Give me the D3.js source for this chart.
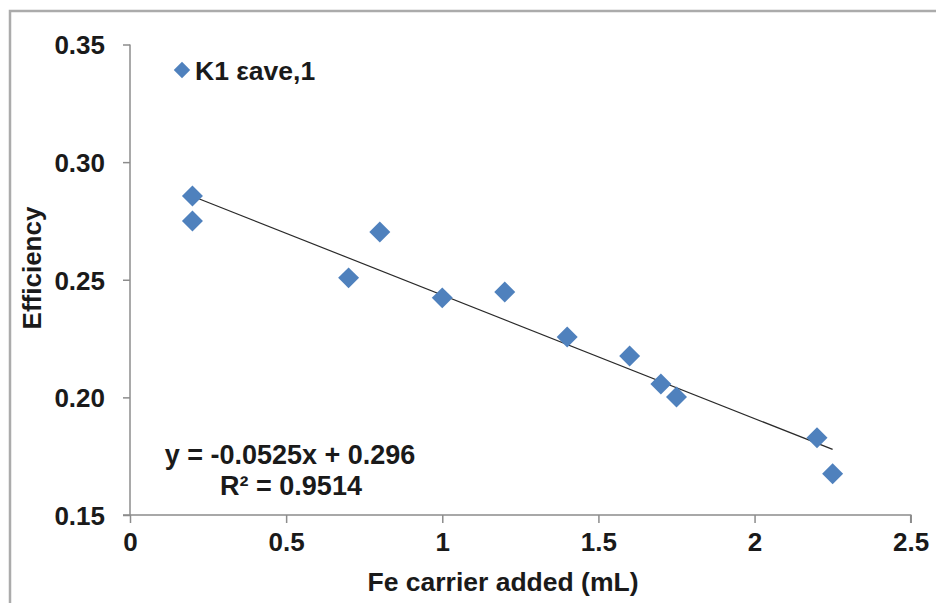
<!DOCTYPE html>
<html>
<head>
<meta charset="utf-8">
<script src="https://cdn.jsdelivr.net/npm/d3@7"></script>
<style>
  html, body { margin: 0; padding: 0; background: #fff; }
  svg { display: block; }
  text { font-family: Arial, "Liberation Sans", sans-serif; font-weight: bold; fill: #1a1a1a; }
</style>
</head>
<body>
<svg id="chart" width="936" height="603"></svg>
<script>
// ---- data ----
const feCarrier = [0.2, 0.2, 0.7, 0.8, 1.0, 1.2, 1.4, 1.6, 1.7, 1.75, 2.2, 2.25];
const efficiency = [0.2856, 0.275, 0.2508, 0.2703, 0.2423, 0.2448, 0.2257, 0.2176, 0.2057, 0.2002, 0.1828, 0.1675];
const seriesName = "K1 εave,1";
const trendSlope = -0.0525;
const trendIntercept = 0.296;
const rSquared = "0.9514";
const xTicks = [0, 0.5, 1, 1.5, 2, 2.5];
const yTicks = [0.15, 0.20, 0.25, 0.30, 0.35];
const xTitle = "Fe carrier added (mL)";
const yTitle = "Efficiency";

// ---- layout ----
const svg = d3.select("#chart");
const pLeft = 130, pRight = 910.7, pTop = 44.5, pBottom = 515;
const x = d3.scaleLinear().domain([0, 2.5]).range([pLeft, pRight]);
const y = d3.scaleLinear().domain([0.15, 0.35]).range([pBottom, pTop]);
const axisColor = "#8c8c8c";
const markerColor = "#4F81BD";

// outer chart border
svg.append("rect")
  .attr("x", 10).attr("y", 11)
  .attr("width", 1000).attr("height", 700)
  .attr("fill", "none").attr("stroke", "#ababab").attr("stroke-width", 2.5);

// axes
const xAxis = svg.append("g")
  .attr("transform", `translate(0,${pBottom})`)
  .call(d3.axisBottom(x).tickValues(xTicks).tickSize(8).tickPadding(10)
        .tickFormat(d => d3.format("")(d)));
const yAxis = svg.append("g")
  .attr("transform", `translate(${pLeft},0)`)
  .call(d3.axisLeft(y).tickValues(yTicks).tickSize(7).tickPadding(18)
        .tickFormat(d3.format(".2f")));

[xAxis, yAxis].forEach(g => {
  g.select(".domain").attr("stroke", axisColor).attr("stroke-width", 1.5);
  g.selectAll(".tick line").attr("stroke", axisColor).attr("stroke-width", 1.5);
  g.selectAll(".tick text")
    .attr("fill", "#1a1a1a")
    .style("font-family", "Arial, 'Liberation Sans', sans-serif")
    .style("font-weight", "bold")
    .style("font-size", "26px");
});
xAxis.select(".domain").attr("d", `M${pLeft - 7},0H${pRight}V8`);
xAxis.selectAll(".tick text").attr("dy", "0.71em");
yAxis.selectAll(".tick text").attr("dy", "0.36em");
yAxis.select(".domain").attr("d", `M0,${pTop}V${pBottom}`);

// trendline
const x0 = d3.min(feCarrier), x1 = d3.max(feCarrier);
svg.append("line")
  .attr("x1", x(x0)).attr("y1", y(trendSlope * x0 + trendIntercept))
  .attr("x2", x(x1)).attr("y2", y(trendSlope * x1 + trendIntercept))
  .attr("stroke", "#2a2a2a").attr("stroke-width", 1.2);

// markers
const diamond = d3.symbol().type(d3.symbolSquare).size(220);
svg.append("g").selectAll("path")
  .data(feCarrier.map((v, i) => [v, efficiency[i]]))
  .join("path")
  .attr("d", diamond)
  .attr("transform", d => `translate(${x(d[0])},${y(d[1])}) rotate(45)`)
  .attr("fill", markerColor);

// legend
svg.append("path")
  .attr("d", d3.symbol().type(d3.symbolSquare).size(135))
  .attr("transform", "translate(182,70) rotate(45)")
  .attr("fill", markerColor);
svg.append("text").attr("x", 195).attr("y", 80).style("font-size", "26.5px").text(seriesName);

// equation
svg.append("text").attr("x", 290).attr("y", 464).attr("text-anchor", "middle")
  .style("font-size", "27px").text(`y = ${trendSlope}x + ${trendIntercept}`);
svg.append("text").attr("x", 291).attr("y", 495).attr("text-anchor", "middle")
  .style("font-size", "27px").text(`R² = ${rSquared}`);

// axis titles
svg.append("text").attr("x", 503).attr("y", 591).attr("text-anchor", "middle")
  .style("font-size", "26.5px").text(xTitle);
svg.append("text").attr("transform", "translate(41,268) rotate(-90)")
  .attr("text-anchor", "middle").style("font-size", "26px").text(yTitle);
</script>
</body>
</html>
